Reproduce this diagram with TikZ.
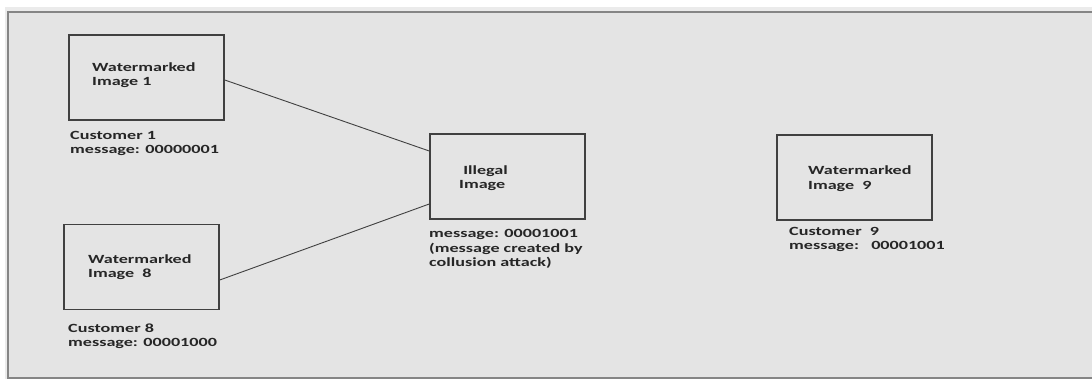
\documentclass[tikz,border=0pt]{standalone}
\usepackage{fontspec}
\setmainfont[FakeStretch=1.45]{Carlito}
\definecolor{panel}{HTML}{E4E4E4}
\definecolor{outer}{HTML}{EBEBEB}
\definecolor{frame}{HTML}{858585}
\definecolor{boxline}{HTML}{404040}
\definecolor{txt}{HTML}{262626}
\tikzset{
  imgbox/.style={draw=boxline, line width=1.5pt, minimum width=155pt, minimum height=85pt, inner sep=0pt},
  lbl/.style={anchor=base west, align=left, inner sep=0pt, text=txt,
    font=\fontsize{12.5}{14.5}\selectfont\bfseries},
  wire/.style={draw=boxline, line width=0.9pt}
}
\begin{document}
\begin{tikzpicture}[x=1pt,y=-1pt]
\useasboundingbox (0,0) rectangle (1092,379);
\fill[white] (0,0) rectangle (1092,379);
\fill[outer] (5,7) rectangle (1092,379);
\fill[panel] (8,12) rectangle (1092,377.5);
\draw[frame, line width=2pt] (1092,12) -- (8,12) -- (8,377.5) -- (1092,377.5);

% boxes
\node (w1) at (146.5,77.5) [imgbox] {};
\node (w8) at (141.5,267) [imgbox] {};
\node (ill) at (507.5,176.5) [imgbox] {};
\node (w9) at (854.5,177.5) [imgbox] {};

% texts in the boxes (placed at the baseline of their last line)
\node (t1) at (92,85.7) [lbl] {Watermarked\\Image 1};
\node (t8) at (88,278) [lbl] {Watermarked\\Image\ \ 8};
\node (ti) at (459,189) [lbl] {\ Illegal\\Image};
\node (t9) at (808,189.5) [lbl] {Watermarked\\Image\ \ 9};

% texts under the boxes
\node (c1) at (70,154) [lbl] {Customer 1\\message: 00000001};
\node (c8) at (68,346.5) [lbl] {Customer 8\\message: 00001000};
\node (ci) at (429,267) [lbl] {message: 00001001\\(message created by\\collusion attack)};
\node (c9) at (789,250) [lbl] {Customer\ \ 9\\message:\ \ \ 00001001};

\draw[wire]
([yshift=-2.5pt]w1.east) -- ([yshift=25.5pt]ill.west)
([yshift=-13pt]w8.east) -- ([yshift=-27.5pt]ill.west);
\end{tikzpicture}
\end{document}
